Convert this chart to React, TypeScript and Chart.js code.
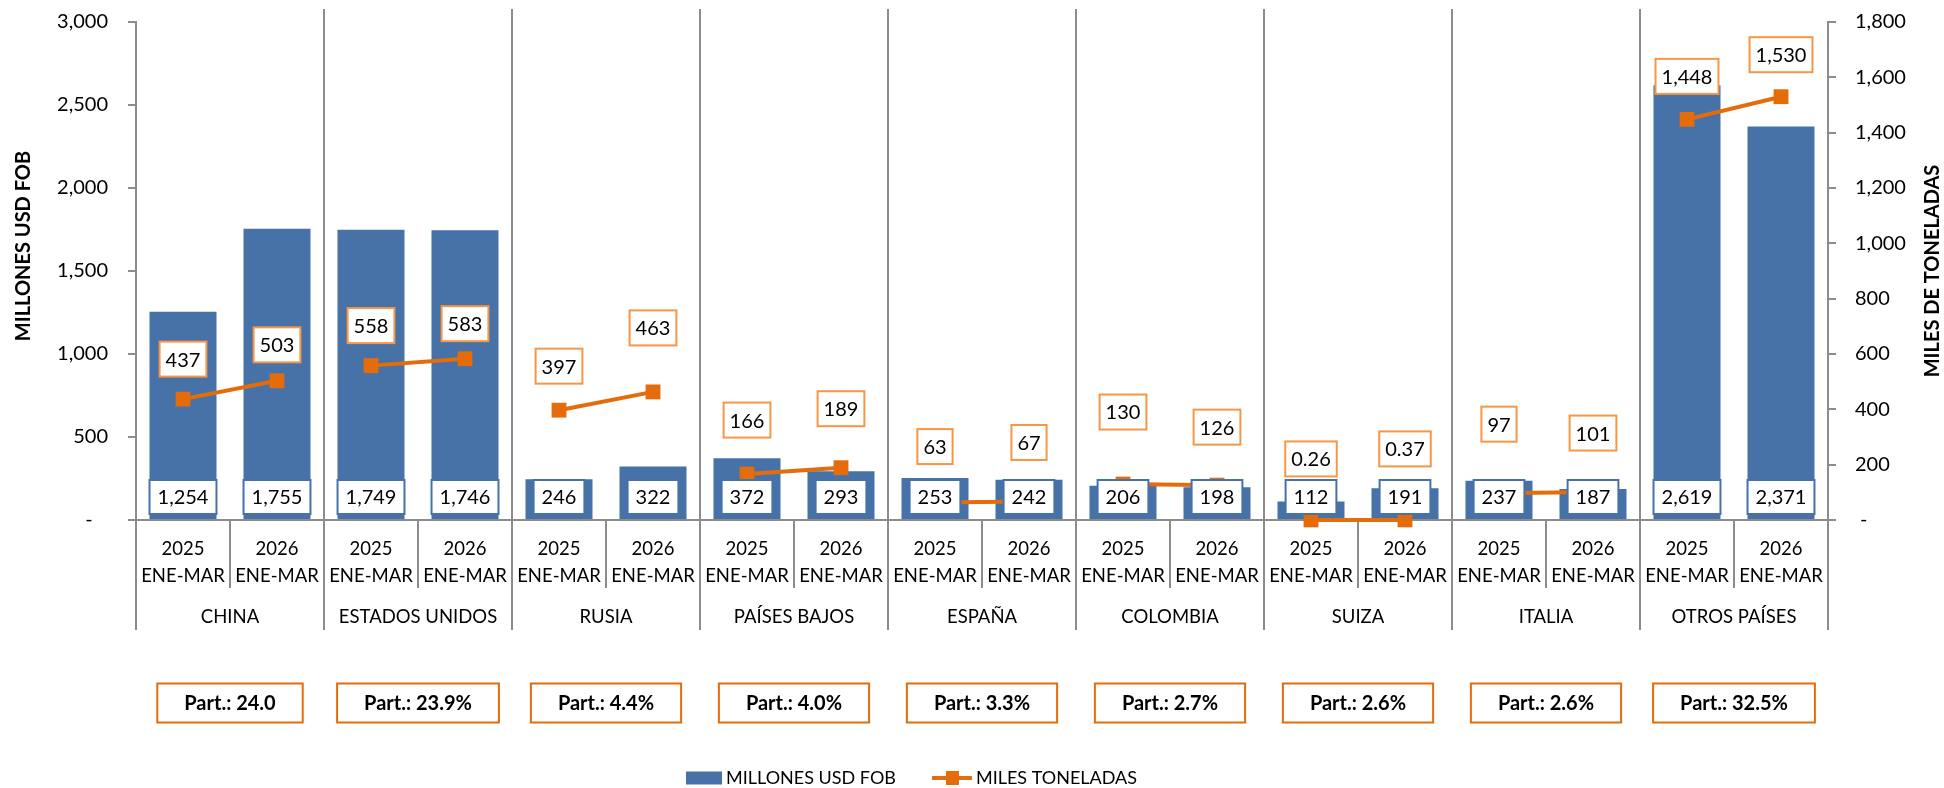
import React, { useEffect, useRef } from 'react';
import { Chart, registerables } from 'chart.js';

Chart.register(...registerables);

// ---------- data ----------
const countries = ['CHINA', 'ESTADOS UNIDOS', 'RUSIA', 'PAÍSES BAJOS', 'ESPAÑA', 'COLOMBIA', 'SUIZA', 'ITALIA', 'OTROS PAÍSES'];
const periodYears = ['2025', '2026'];
const periodRange = 'ENE-MAR';
const millonesUsdFob = [1254, 1755, 1749, 1746, 246, 322, 372, 293, 253, 242, 206, 198, 112, 191, 237, 187, 2619, 2371];
const milesToneladas = [437, 503, 558, 583, 397, 463, 166, 189, 63, 67, 130, 126, 0.26, 0.37, 97, 101, 1448, 1530];
const participacion = ['Part.: 24.0', 'Part.: 23.9%', 'Part.: 4.4%', 'Part.: 4.0%', 'Part.: 3.3%', 'Part.: 2.7%', 'Part.: 2.6%', 'Part.: 2.6%', 'Part.: 32.5%'];
const leftAxisMax = 3000;
const leftAxisStep = 500;
const rightAxisMax = 1800;
const rightAxisStep = 200;
const seriesNames = ['MILLONES USD FOB', 'MILES TONELADAS'];
const axisTitles = ['MILLONES USD FOB', 'MILES DE TONELADAS'];

// ---------- layout / style ----------
const labelLift = [40, 36, 40, 35, 44, 64, 54, 59, 56, 59, 72, 58, 61, 71, 69, 59, 43, 42];
const BLUE = '#4672A8';
const ORANGE = '#E46C0A';
const ORANGE_LIGHT = '#F79646';
const GRID = '#8C8C8C';
const FONT = 'Lato, "Open Sans", sans-serif';

const categoryLabels = countries.flatMap(() => periodYears.map((y) => [y, periodRange]));

const fmt = (v: number) => (v >= 1 ? Math.round(v).toLocaleString('en-US') : v.toFixed(2));

function line(ctx: CanvasRenderingContext2D, x1: number, y1: number, x2: number, y2: number) {
  ctx.beginPath();
  ctx.moveTo(x1, y1);
  ctx.lineTo(x2, y2);
  ctx.stroke();
}

function box(ctx: CanvasRenderingContext2D, cx: number, cy: number, text: string, stroke: string, lw: number, padX: number, h: number, font: string) {
  ctx.font = font;
  const w = ctx.measureText(text).width + padX * 2;
  ctx.fillStyle = '#fff';
  ctx.fillRect(cx - w / 2, cy - h / 2, w, h);
  ctx.strokeStyle = stroke;
  ctx.lineWidth = lw;
  ctx.strokeRect(cx - w / 2, cy - h / 2, w, h);
  ctx.fillStyle = '#000';
  ctx.textAlign = 'center';
  ctx.textBaseline = 'middle';
  ctx.fillText(text, cx, cy + 1);
}

const overlay = {
  id: 'overlay',
  beforeDatasetsDraw(chart: any) {
    const { ctx, chartArea } = chart;
    const x = chart.scales.x;
    ctx.save();
    ctx.strokeStyle = GRID;
    ctx.lineWidth = 2;
    const bottomExt = chartArea.bottom + 110;
    for (let g = 1; g < countries.length; g++) {
      const px = (x.getPixelForValue(2 * g - 1) + x.getPixelForValue(2 * g)) / 2;
      line(ctx, px, chartArea.top - 13, px, bottomExt);
    }
    line(ctx, chartArea.left, chartArea.bottom, chartArea.left, bottomExt);
    line(ctx, chartArea.right, chartArea.bottom, chartArea.right, bottomExt);
    for (let g = 0; g < countries.length; g++) {
      const px = (x.getPixelForValue(2 * g) + x.getPixelForValue(2 * g + 1)) / 2;
      line(ctx, px, chartArea.bottom, px, chartArea.bottom + 68);
    }
    ctx.restore();
  },
  afterDatasetsDraw(chart: any) {
    const { ctx, chartArea } = chart;
    const barMeta = chart.getDatasetMeta(0);
    const lineMeta = chart.getDatasetMeta(1);
    ctx.save();
    millonesUsdFob.forEach((v, i) => {
      const el = barMeta.data[i];
      box(ctx, el.x, chartArea.bottom - 23, fmt(v), BLUE, 2, 8, 34, `20px ${FONT}`);
    });
    milesToneladas.forEach((v, i) => {
      const el = lineMeta.data[i];
      box(ctx, el.x, el.y - labelLift[i], fmt(v), ORANGE_LIGHT, 2, 6, 35, `20px ${FONT}`);
    });
    ctx.restore();
  },
  afterDraw(chart: any) {
    const { ctx, chartArea } = chart;
    const x = chart.scales.x;
    ctx.save();
    ctx.fillStyle = '#000';
    ctx.font = `bold 20px ${FONT}`;
    ctx.textAlign = 'center';
    ctx.textBaseline = 'middle';
    ctx.save();
    ctx.translate(24, chartArea.top + 224);
    ctx.rotate(-Math.PI / 2);
    ctx.fillText(axisTitles[0], 0, 0);
    ctx.restore();
    ctx.save();
    ctx.translate(chart.width - 11, (chartArea.top + chartArea.bottom) / 2);
    ctx.rotate(-Math.PI / 2);
    ctx.fillText(axisTitles[1], 0, 0);
    ctx.restore();
    ctx.font = `18.5px ${FONT}`;
    countries.forEach((c, g) => {
      const cx = (x.getPixelForValue(2 * g) + x.getPixelForValue(2 * g + 1)) / 2;
      ctx.fillText(c, cx, chartArea.bottom + 97);
    });
    countries.forEach((c, g) => {
      const cx = (x.getPixelForValue(2 * g) + x.getPixelForValue(2 * g + 1)) / 2;
      box(ctx, cx, chartArea.bottom + 183, participacion[g], ORANGE, 2, 27, 39, `bold 20px ${FONT}`);
    });
    const ly = chart.height - 10;
    let lx = 686;
    ctx.fillStyle = BLUE;
    ctx.fillRect(lx, ly - 6.5, 36, 13);
    ctx.fillStyle = '#000';
    ctx.font = `18px ${FONT}`;
    ctx.textAlign = 'left';
    ctx.textBaseline = 'middle';
    ctx.fillText(seriesNames[0], lx + 40, ly);
    lx = lx + 40 + ctx.measureText(seriesNames[0]).width + 36;
    ctx.strokeStyle = ORANGE;
    ctx.lineWidth = 4;
    line(ctx, lx, ly, lx + 40, ly);
    ctx.fillStyle = ORANGE;
    ctx.fillRect(lx + 14, ly - 7, 13, 14);
    ctx.fillStyle = '#000';
    ctx.fillText(seriesNames[1], lx + 44, ly);
    ctx.restore();
  },
};

export default function App() {
  const ref = useRef<HTMLCanvasElement>(null);
  useEffect(() => {
    document.body.style.margin = '0';
    const canvas = ref.current!;
    const tickFont = { family: FONT, size: 20 };
    const chart = new Chart(canvas, {
      type: 'bar',
      data: {
        labels: categoryLabels,
        datasets: [
          {
            type: 'bar',
            label: seriesNames[0],
            data: millonesUsdFob,
            yAxisID: 'y',
            backgroundColor: BLUE,
            barPercentage: 0.713,
            categoryPercentage: 1,
            order: 2,
          } as any,
          {
            type: 'line',
            label: seriesNames[1],
            data: milesToneladas,
            yAxisID: 'y2',
            borderColor: ORANGE,
            backgroundColor: ORANGE,
            borderWidth: 4,
            pointStyle: 'rect',
            pointRadius: 10.5,
            pointBorderWidth: 0,
            pointBackgroundColor: ORANGE,
            clip: false,
            order: 1,
            segment: {
              borderColor: (c: any) => (c.p0DataIndex % 2 === 1 ? 'rgba(0,0,0,0)' : ORANGE),
            },
          } as any,
        ],
      },
      options: {
        animation: false,
        responsive: false,
        maintainAspectRatio: false,
        layout: { padding: { top: 22, left: 0, right: 0, bottom: 0 } },
        plugins: { legend: { display: false }, tooltip: { enabled: false } },
        scales: {
          x: {
            offset: true,
            grid: { display: false },
            border: { display: true, color: GRID, width: 2 },
            ticks: {
              font: { family: FONT, size: 18.5, lineHeight: 1.45 },
              color: '#000',
              padding: 8,
              maxRotation: 0,
              autoSkip: false,
            },
            afterFit: (s: any) => {
              s.height = 268;
            },
          },
          y: {
            position: 'left',
            min: 0,
            max: leftAxisMax,
            ticks: {
              stepSize: leftAxisStep,
              font: tickFont,
              color: '#000',
              padding: 20,
              callback: (v: any) => (Number(v) === 0 ? '-   ' : Number(v).toLocaleString('en-US')),
            },
            grid: { drawOnChartArea: false, drawTicks: true, tickLength: 8, color: GRID, lineWidth: 2 },
            border: { display: true, color: GRID, width: 2 },
            afterFit: (s: any) => {
              s.width = 136;
              s.paddingTop = 0;
              s.paddingBottom = 0;
            },
          },
          y2: {
            position: 'right',
            min: 0,
            max: rightAxisMax,
            ticks: {
              stepSize: rightAxisStep,
              font: tickFont,
              color: '#000',
              padding: 19,
              callback: (v: any) => (Number(v) === 0 ? ' -' : Number(v).toLocaleString('en-US')),
            },
            grid: { drawOnChartArea: false, drawTicks: true, tickLength: 8, color: GRID, lineWidth: 2 },
            border: { display: true, color: GRID, width: 2 },
            afterFit: (s: any) => {
              s.width = 116;
              s.paddingTop = 0;
              s.paddingBottom = 0;
            },
          },
        },
      } as any,
      plugins: [overlay],
    });
    return () => chart.destroy();
  }, []);
  return <canvas ref={ref} width={1944} height={788} style={{ display: 'block', width: 1944, height: 788 }} />;
}
